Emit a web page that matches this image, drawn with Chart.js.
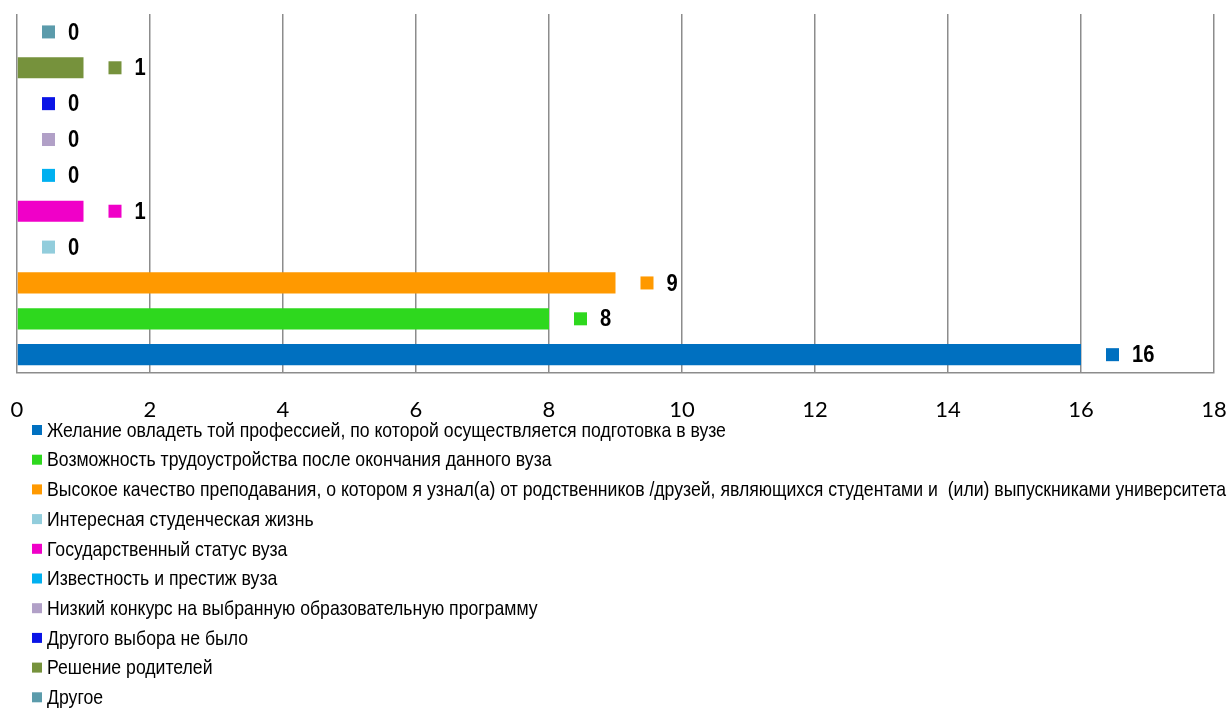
<!DOCTYPE html>
<html>
<head>
<meta charset="utf-8">
<script src="https://cdn.jsdelivr.net/npm/chart.js@4/dist/chart.umd.min.js"></script>
<style>
  html, body { margin: 0; padding: 0; background: #fff; }
</style>
</head>
<body>
<canvas id="chart" width="1230" height="713"></canvas>
<script>
// series in legend order (first one is drawn at the bottom)
const seriesNames = [
  'Желание овладеть той профессией, по которой осуществляется подготовка в вузе',
  'Возможность трудоустройства после окончания данного вуза',
  'Высокое качество преподавания, о котором я узнал(а) от родственников /друзей, являющихся студентами и  (или) выпускниками университета',
  'Интересная студенческая жизнь',
  'Государственный статус вуза',
  'Известность и престиж вуза',
  'Низкий конкурс на выбранную образовательную программу',
  'Другого выбора не было',
  'Решение родителей',
  'Другое'
];
const seriesValues = [16, 8, 9, 0, 1, 0, 0, 0, 1, 0];
const seriesColors = ['#0070c0', '#2ed81e', '#ff9900', '#92cddc', '#f000c8', '#00b0f0', '#b1a0c7', '#0a14e6', '#76923c', '#5b9bab'];
const xTicks = [0, 2, 4, 6, 8, 10, 12, 14, 16, 18];

// no narrow font installed, so text is squeezed horizontally
const squeeze = 0.84;
const fontFam = '"Liberation Sans", Arial, sans-serif';

// reversed so the first series sits at the bottom like in the original
const datasets = seriesNames.map((name, i) => ({
  label: name,
  data: [seriesValues[i]],
  backgroundColor: seriesColors[i],
  borderWidth: 0,
  categoryPercentage: 1,
  barPercentage: 0.59
})).reverse();

function squeezedText(ctx, text, x, y) {
  ctx.save();
  ctx.translate(x, y);
  ctx.scale(squeeze, 1);
  ctx.fillText(text, 0, 0);
  ctx.restore();
}

const valueLabels = {
  id: 'valueLabels',
  afterDatasetsDraw(chart) {
    const ctx = chart.ctx;
    ctx.save();
    chart.data.datasets.forEach((ds, i) => {
      const bar = chart.getDatasetMeta(i).data[0];
      ctx.fillStyle = ds.backgroundColor;
      ctx.fillRect(bar.x + 25, bar.y - 6.5, 13, 13);
      ctx.fillStyle = '#000';
      ctx.font = 'bold 24px ' + fontFam;
      ctx.textBaseline = 'middle';
      ctx.textAlign = 'left';
      squeezedText(ctx, String(ds.data[0]), bar.x + 51, bar.y + 1);
    });
    ctx.restore();
  }
};

const bottomLegend = {
  id: 'bottomLegend',
  afterDraw(chart) {
    const ctx = chart.ctx;
    ctx.save();
    ctx.font = '21px ' + fontFam;
    ctx.textBaseline = 'middle';
    seriesNames.forEach((name, i) => {
      const y = 430 + i * 29.7;
      ctx.fillStyle = seriesColors[i];
      ctx.fillRect(32, y - 5, 10, 10);
      ctx.fillStyle = '#000';
      squeezedText(ctx, name, 47, y + 1);
    });
    ctx.restore();
  }
};

new Chart(document.getElementById('chart'), {
  type: 'bar',
  data: { labels: [''], datasets: datasets },
  options: {
    indexAxis: 'y',
    responsive: false,
    animation: false,
    layout: { padding: { left: 17, right: 16, top: 14, bottom: 266 } },
    plugins: { legend: { display: false }, tooltip: { enabled: false } },
    scales: {
      x: {
        min: 0, max: 18,
        afterBuildTicks(axis) { axis.ticks = xTicks.map(v => ({ value: v })); },
        afterFit(axis) { axis.paddingLeft = 0; axis.paddingRight = 0; },
        grid: { color: '#8c8c8c', lineWidth: 1.5, drawTicks: false },
        border: { color: '#8c8c8c', width: 1.5 },
        ticks: { color: '#000', padding: 24, font: { family: 'Lato', size: 22 } }
      },
      y: { display: false }
    }
  },
  plugins: [valueLabels, bottomLegend]
});
</script>
</body>
</html>
